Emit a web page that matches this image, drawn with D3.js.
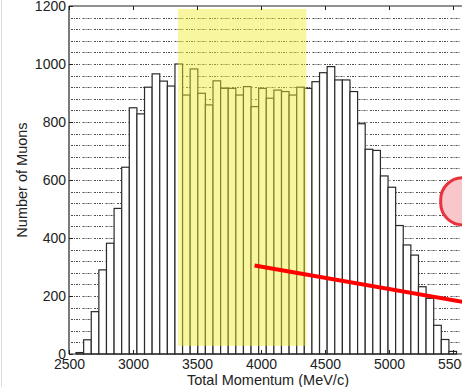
<!DOCTYPE html>
<html>
<head>
<meta charset="utf-8">
<script src="https://cdn.jsdelivr.net/npm/d3@7"></script>
<style>
  body { margin: 0; background: #fff; }
  svg { display: block; font-family: "Liberation Sans", Arial, sans-serif; }
</style>
</head>
<body>
<div id="chart"></div>
<script>
// histogram of muon momentum, 50 bins
const binStart = 2555;
const binWidth = 59.45;
const counts = [5, 49, 146, 290, 382, 502, 644, 849, 828, 920,
  966, 941, 924, 1000, 893, 983, 899, 859, 942, 916,
  916, 893, 922, 853, 916, 882, 910, 905, 893, 920,
  916, 939, 970, 991, 945, 945, 905, 794, 706, 702,
  614, 575, 443, 376, 341, 232, 192, 99, 50, 9];

const xTicks = [2500, 3000, 3500, 4000, 4500, 5000, 5500, 6000];
const xTickLabels = ["2500", "3000", "3500", "4000", "4500", "5000", "5500", ""];
const yTicks = [0, 200, 400, 600, 800, 1000, 1200];
const gridValues = d3.range(40, 1200, 40);

// yellow selection band and annotations (data coords)
const band = [3352, 4355];
const bandY = [28, 1190];
const redLine = [[3950, 305], [5750, 166]];
const callout = { x0: 5404, x1: 5900, y0: 445, y1: 608 };

const width = 462;
const height = 387;

const x = d3.scaleLinear().domain([2500, 6000]).range([69, 517]);
const y = d3.scaleLinear().domain([0, 1200]).range([354, 6]);

const bins = counts.map((c, i) => ({
  x0: binStart + i * binWidth,
  x1: binStart + (i + 1) * binWidth,
  count: c
}));

const svg = d3.select("#chart")
  .append("svg")
  .attr("width", width)
  .attr("height", height);

// faint slide border on the left
svg.append("line")
  .attr("x1", 1.5).attr("x2", 1.5)
  .attr("y1", 0).attr("y2", height)
  .attr("stroke", "#ddd")
  .attr("stroke-width", 1);

// dotted horizontal guide lines
svg.append("g")
  .selectAll("line")
  .data(gridValues)
  .enter()
  .append("line")
  .attr("x1", x(2500) + 2)
  .attr("x2", width)
  .attr("y1", (d) => Math.round(y(d)) + 0.5)
  .attr("y2", (d) => Math.round(y(d)) + 0.5)
  .attr("stroke", "#3a3a3a")
  .attr("stroke-width", 0.9)
  .attr("stroke-dasharray", "2,1,1,1,2,1,1,2.5");

// bars
svg.append("g")
  .selectAll("rect")
  .data(bins)
  .enter()
  .append("rect")
  .attr("x", (d) => x(d.x0))
  .attr("y", (d) => y(d.count))
  .attr("width", (d) => x(d.x1) - x(d.x0))
  .attr("height", (d) => y(0) - y(d.count))
  .attr("fill", "#fff")
  .attr("stroke", "#2a2a2a")
  .attr("stroke-width", 1.2);

// yellow band over the bars
svg.append("rect")
  .attr("x", x(band[0]))
  .attr("y", y(bandY[1]))
  .attr("width", x(band[1]) - x(band[0]))
  .attr("height", y(bandY[0]) - y(bandY[1]))
  .attr("fill", "rgb(240,234,40)")
  .attr("opacity", 0.45);

// axes: ticks point inward
const xAxis = d3.axisBottom(x)
  .tickValues(xTicks)
  .tickFormat((d, i) => xTickLabels[i])
  .tickSize(-4)
  .tickPadding(5);

const gx = svg.append("g")
  .attr("transform", `translate(0,${y(0)})`)
  .call(xAxis);

const gxTop = svg.append("g")
  .attr("transform", `translate(0,${y(1200)})`)
  .call(d3.axisTop(x).tickValues(xTicks).tickSize(-4).tickFormat(""));

const gy = svg.append("g")
  .attr("transform", `translate(${x(2500)},0)`)
  .call(d3.axisLeft(y).tickValues(yTicks).tickFormat(d3.format("d")).tickSize(-4).tickPadding(3));

[gx, gxTop, gy].forEach((g) => {
  g.select(".domain").remove();
  g.selectAll(".tick line").attr("stroke", "#222").attr("stroke-width", 1);
  g.selectAll("text")
    .style("font-size", "14px")
    .style("font-family", "'Liberation Sans', Arial, sans-serif")
    .attr("fill", "#222");
});

// box lines
svg.append("line")
  .attr("x1", x(2500)).attr("x2", width)
  .attr("y1", y(0)).attr("y2", y(0))
  .attr("stroke", "#222").attr("stroke-width", 1.2);
svg.append("line")
  .attr("x1", x(2500)).attr("x2", width)
  .attr("y1", y(1200)).attr("y2", y(1200))
  .attr("stroke", "#222").attr("stroke-width", 1.2);
svg.append("line")
  .attr("x1", x(2500)).attr("x2", x(2500))
  .attr("y1", y(1200)).attr("y2", y(0))
  .attr("stroke", "#222").attr("stroke-width", 1.2);

// axis titles
svg.append("text")
  .attr("x", 268)
  .attr("y", 385)
  .attr("text-anchor", "middle")
  .style("font-size", "14.5px")
  .attr("fill", "#222")
  .text("Total Momentum (MeV/c)");

svg.append("text")
  .attr("transform", "translate(27,180) rotate(-90)")
  .attr("text-anchor", "middle")
  .style("font-size", "14.5px")
  .attr("fill", "#222")
  .text("Number of Muons");

// red annotation line
svg.append("line")
  .attr("x1", x(redLine[0][0]))
  .attr("y1", y(redLine[0][1]))
  .attr("x2", x(redLine[1][0]))
  .attr("y2", y(redLine[1][1]))
  .attr("stroke", "#f00")
  .attr("stroke-width", 4);

// pink callout shape cut off at the right edge
svg.append("rect")
  .attr("x", x(callout.x0))
  .attr("y", y(callout.y1))
  .attr("width", x(callout.x1) - x(callout.x0))
  .attr("height", y(callout.y0) - y(callout.y1))
  .attr("rx", 22)
  .attr("fill", "#f8c6cb")
  .attr("stroke", "#e8333c")
  .attr("stroke-width", 3);
</script>
</body>
</html>
